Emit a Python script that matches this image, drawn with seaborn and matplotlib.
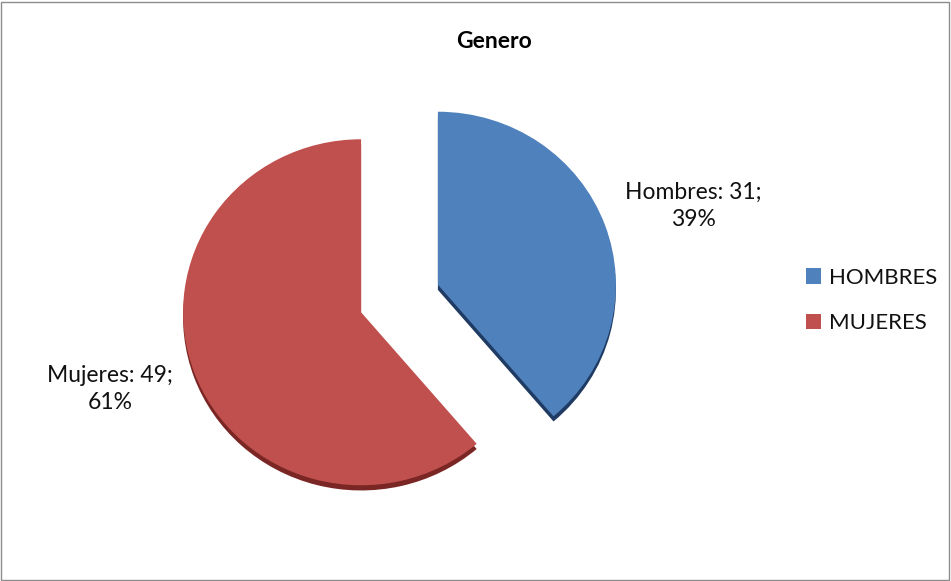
import matplotlib
matplotlib.use("Agg")
import matplotlib.pyplot as plt
import seaborn as sns
from matplotlib.patches import Rectangle, Patch

sns.set_theme(style="white")
plt.rcParams['font.family'] = ['Lato', 'DejaVu Sans']

categories = ["HOMBRES", "MUJERES"]
label_names = ["Hombres", "Mujeres"]
values = [31, 49]
colors = ["#4F81BD", "#C0504D"]
dark_colors = ["#1F3B63", "#7A2624"]
title = "Genero"

total = sum(values)
labels = [f"{n}: {v};\n{round(100 * v / total)}%" for n, v in zip(label_names, values)]

W, H = 951, 581
fig = plt.figure(figsize=(W / 100, H / 100), dpi=100)
ax = fig.add_axes([0, 0, 1, 1])

# pixel geometry of the pie (slightly flattened, like the 3-D original)
RX, RY = 178.0, 173.0
cx, cy = 399.5, 298.5


def to_data(px, py):
    return (px - cx) / RX, (cy - py) / RY


explode = [0.23, 0.23]
# darker "depth" layer
ax.pie(values, colors=dark_colors, startangle=90, counterclock=False,
       explode=explode, center=(0.0, -0.03), radius=1.0,
       wedgeprops=dict(linewidth=0))
wedges, texts = ax.pie(values, colors=colors, startangle=90, counterclock=False,
                       explode=explode, labels=labels, labeldistance=1.5,
                       wedgeprops=dict(linewidth=0),
                       textprops=dict(fontsize=16.5, color="#111111"))
label_pix = [(693, 206), (110, 389)]
for t, (px, py) in zip(texts, label_pix):
    t.set_position(to_data(px, py))
    t.set_ha("center")
    t.set_va("center")
    t.set_multialignment("center")
    t.set_linespacing(1.4)

ax.set_xlim(-cx / RX, (W - cx) / RX)
ax.set_ylim(-(H - cy) / RY, cy / RY)
ax.set_aspect("auto")
ax.axis("off")

fig.text(494 / W, 1 - 41 / H, title, ha="center", va="center",
         fontsize=16.5, fontweight="bold", color="#000000")

handles = [Patch(facecolor=c, edgecolor="none") for c in colors]
leg = fig.legend(handles, categories, loc="center left",
                 bbox_to_anchor=(806 / W, 1 - 300.5 / H), frameon=False,
                 fontsize=16, handlelength=0.68, handleheight=0.68,
                 handletextpad=0.36, labelspacing=1.15,
                 borderpad=0, borderaxespad=0)
for txt in leg.get_texts():
    txt.set_color("#111111")

fig.patches.append(Rectangle((1 / W, 1 / H), (W - 3) / W, (H - 3) / H,
                             transform=fig.transFigure, fill=False,
                             edgecolor="#8c8c8c", linewidth=1))

fig.savefig("out.png", dpi=100)
